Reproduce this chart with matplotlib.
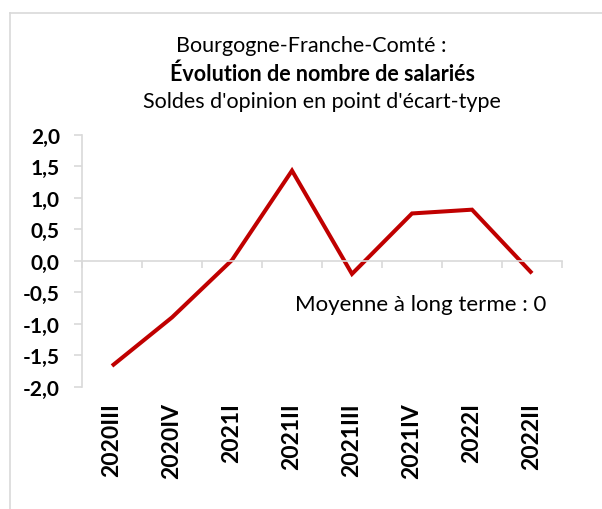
import matplotlib
matplotlib.use("Agg")
import matplotlib.pyplot as plt
from matplotlib.lines import Line2D
from matplotlib.ticker import FixedLocator, FuncFormatter

plt.rcParams['font.family'] = ['Lato', 'DejaVu Sans']

categories = ["2020III", "2020IV", "2021I", "2021II", "2021III", "2021IV", "2022I", "2022II"]
values = [-1.67, -0.90, 0.01, 1.43, -0.21, 0.75, 0.81, -0.20]
yticks = [-2.0, -1.5, -1.0, -0.5, 0.0, 0.5, 1.0, 1.5, 2.0]

W, H = 602, 510
fig = plt.figure(figsize=(W / 100, H / 100), dpi=100)

# chart border
grey = "#d9d9d9"
x0, y0 = 10 / W, 1 - 13.5 / H
fig.add_artist(Line2D([x0, 1.01], [y0, y0], color=grey, lw=1.2, transform=fig.transFigure))
fig.add_artist(Line2D([x0, x0], [y0, -0.01], color=grey, lw=1.2, transform=fig.transFigure))

left, right = 82 / W, 562 / W
top, bottom = 1 - 135.7 / H, 1 - 387.7 / H
ax = fig.add_axes([left, bottom, right - left, top - bottom])

xs = list(range(len(categories)))
ax.plot(xs, values, color="#c00000", lw=2.9, solid_joinstyle="miter", solid_capstyle="butt")

ax.set_xlim(-0.5, len(categories) - 0.5)
ax.set_ylim(-2.0, 2.0)

for s in ["top", "right"]:
    ax.spines[s].set_visible(False)
ax.spines["left"].set_color(grey)
ax.spines["left"].set_linewidth(1.2)
ax.spines["bottom"].set_position(("data", 0))
ax.spines["bottom"].set_color(grey)
ax.spines["bottom"].set_linewidth(1.2)

ax.yaxis.set_major_locator(FixedLocator(yticks))
ax.yaxis.set_major_formatter(FuncFormatter(lambda v, p: f"{v:.1f}".replace(".", ",").replace("-0,0", "0,0")))
ax.tick_params(axis="y", direction="out", length=6, width=1.2, color=grey, pad=10,
               labelsize=15)
for lab in ax.get_yticklabels():
    lab.set_fontweight("bold")

bounds = [i - 0.5 for i in range(len(categories) + 1)]
ax.set_xticks(bounds)
ax.set_xticklabels([])
ax.tick_params(axis="x", direction="out", length=5, width=1.2, color=grey)

sec = ax.secondary_xaxis(location=0)
sec.set_xticks(xs)
sec.set_xticklabels(categories, rotation=90, fontweight="bold", fontsize=16.5, va="top")
sec.tick_params(length=0, pad=11)
sec.spines["bottom"].set_visible(False)

ax.text(5.15, -0.69, "Moyenne à long terme : 0", ha="center", va="center", fontsize=16)

fig.text(311 / W, 1 - 46 / H, "Bourgogne-Franche-Comté :", ha="center", va="center", fontsize=15.5)
fig.text(323 / W, 1 - 74 / H, "Évolution de nombre de salariés", ha="center", va="center",
         fontsize=15.5, fontweight="bold")
fig.text(322 / W, 1 - 102 / H, "Soldes d'opinion en point d'écart-type", ha="center", va="center",
         fontsize=15.5)

fig.savefig("out.png", dpi=100)
